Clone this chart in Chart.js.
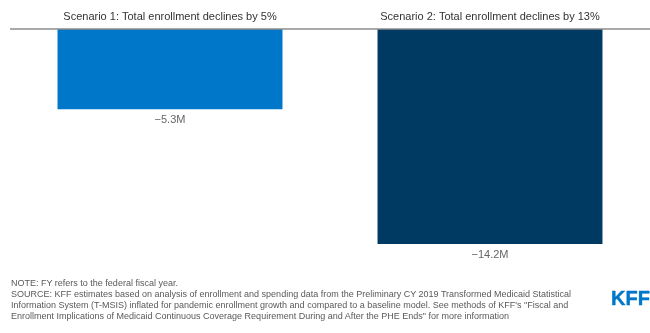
<!DOCTYPE html>
<html>
<head>
<meta charset="utf-8">
<script src="https://cdn.jsdelivr.net/npm/chart.js@4"></script>
<style>
  body { margin: 0; background: #fff; font-family: "Liberation Sans", Arial, sans-serif; }
  #wrap { position: relative; width: 650px; height: 333px; overflow: hidden; }
  #myChart { position: absolute; left: 0; top: 0; }
  #notes { position: absolute; left: 11px; top: 278px; width: 570px; font-size: 9px; line-height: 11px; color: #595959; }
  #logo { position: absolute; left: 611px; top: 287px; font-size: 20px; font-weight: bold; color: #0077c8; letter-spacing: 0px; -webkit-text-stroke: 0.4px #0077c8; }
</style>
</head>
<body>
<div id="wrap">
  <canvas id="myChart" width="650" height="333"></canvas>
  <div id="notes">
    NOTE: FY refers to the federal fiscal year.<br>
    SOURCE: KFF estimates based on analysis of enrollment and spending data from the Preliminary CY 2019 Transformed Medicaid Statistical Information System (T-MSIS) inflated for pandemic enrollment growth and compared to a baseline model. See methods of KFF's "Fiscal and Enrollment Implications of Medicaid Continuous Coverage Requirement During and After the PHE Ends" for more information
  </div>
  <div id="logo">KFF</div>
</div>
<script>
const scenarios = [
  "Scenario 1: Total enrollment declines by 5%",
  "Scenario 2: Total enrollment declines by 13%"
];
const enrollmentChange = [-5.3, -14.2];   // millions
const valueLabels = ["\u22125.3M", "\u221214.2M"];
const barColors = ["#0077c8", "#003a63"];

// titles above the baseline, zero line and value labels under the bars
const scenarioText = {
  id: "scenarioText",
  afterDatasetsDraw(chart) {
    const ctx = chart.ctx;
    const x = chart.scales.x;
    const y = chart.scales.y;
    const zeroY = y.getPixelForValue(0);

    ctx.save();
    ctx.beginPath();
    ctx.moveTo(chart.chartArea.left, zeroY);
    ctx.lineTo(chart.chartArea.right, zeroY);
    ctx.lineWidth = 1.5;
    ctx.strokeStyle = "#8c8c8c";
    ctx.stroke();

    ctx.textAlign = "center";
    ctx.textBaseline = "middle";
    scenarios.forEach((t, i) => {
      const cx = x.getPixelForValue(i);
      ctx.font = '11px "Liberation Sans", Arial, sans-serif';
      ctx.fillStyle = "#333";
      ctx.fillText(t, cx, zeroY - 12);

      ctx.fillStyle = "#666";
      ctx.fillText(valueLabels[i], cx, y.getPixelForValue(enrollmentChange[i]) + 11);
    });
    ctx.restore();
  }
};

const ctx = document.getElementById("myChart").getContext("2d");

new Chart(ctx, {
  type: "bar",
  data: {
    labels: scenarios,
    datasets: [{
      data: enrollmentChange,
      backgroundColor: barColors,
      borderWidth: 0,
      categoryPercentage: 1,
      barPercentage: 0.703
    }]
  },
  options: {
    responsive: false,
    animation: false,
    layout: { padding: { top: 29, bottom: 89, left: 10, right: 0 } },
    plugins: { legend: { display: false }, tooltip: { enabled: false } },
    scales: {
      x: { display: false },
      y: { display: false, min: -14.2, max: 0 }
    }
  },
  plugins: [scenarioText]
});
</script>
</body>
</html>
